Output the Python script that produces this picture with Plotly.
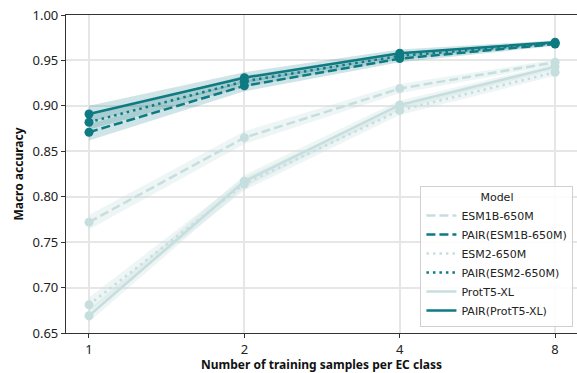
import math
import plotly.graph_objects as go

# Training samples per EC class
samples = [1, 2, 4, 8]

# Macro accuracy per model (mean and band edges)
names = ["ESM1B-650M", "PAIR(ESM1B-650M)", "ESM2-650M",
         "PAIR(ESM2-650M)", "ProtT5-XL", "PAIR(ProtT5-XL)"]

esm1b_mean = [0.772, 0.865, 0.919, 0.948]
esm1b_lo = [0.764, 0.858, 0.914, 0.945]
esm1b_hi = [0.780, 0.872, 0.924, 0.951]

pair_esm1b_mean = [0.871, 0.922, 0.952, 0.968]
pair_esm1b_lo = [0.862, 0.916, 0.948, 0.966]
pair_esm1b_hi = [0.880, 0.928, 0.956, 0.970]

esm2_mean = [0.681, 0.814, 0.895, 0.937]
esm2_lo = [0.673, 0.807, 0.890, 0.933]
esm2_hi = [0.689, 0.821, 0.900, 0.941]

pair_esm2_mean = [0.882, 0.927, 0.955, 0.969]
pair_esm2_lo = [0.874, 0.921, 0.951, 0.967]
pair_esm2_hi = [0.890, 0.933, 0.959, 0.971]

prott5_mean = [0.669, 0.817, 0.901, 0.943]
prott5_lo = [0.662, 0.810, 0.896, 0.940]
prott5_hi = [0.676, 0.824, 0.906, 0.946]

pair_prott5_mean = [0.891, 0.931, 0.958, 0.970]
pair_prott5_lo = [0.882, 0.925, 0.954, 0.968]
pair_prott5_hi = [0.900, 0.937, 0.962, 0.972]

DARK = "#0e7a82"
LIGHT = "#c6dede"
DARK_BAND = "rgba(14,122,130,0.20)"
LIGHT_BAND = "rgba(198,222,222,0.30)"

DASH = "9px,4px"
DOT = "2.5px,4px"

series = [
    (names[0], esm1b_mean, esm1b_lo, esm1b_hi, LIGHT, LIGHT_BAND, DASH),
    (names[1], pair_esm1b_mean, pair_esm1b_lo, pair_esm1b_hi, DARK, DARK_BAND, DASH),
    (names[2], esm2_mean, esm2_lo, esm2_hi, LIGHT, LIGHT_BAND, DOT),
    (names[3], pair_esm2_mean, pair_esm2_lo, pair_esm2_hi, DARK, DARK_BAND, DOT),
    (names[4], prott5_mean, prott5_lo, prott5_hi, LIGHT, LIGHT_BAND, "solid"),
    (names[5], pair_prott5_mean, pair_prott5_lo, pair_prott5_hi, DARK, DARK_BAND, "solid"),
]

fig = go.Figure()

# Shaded bands: light models first, then PAIR models on top
order = [0, 2, 4, 1, 3, 5]
for i in order:
    name, mean, lo, hi, col, band, dash = series[i]
    fig.add_trace(go.Scatter(
        x=samples + samples[::-1], y=hi + lo[::-1],
        fill="toself", fillcolor=band, line=dict(width=0),
        mode="lines", showlegend=False, hoverinfo="skip"))

# Lines (legend entries) and markers
for i in order:
    name, mean, lo, hi, col, band, dash = series[i]
    fig.add_trace(go.Scatter(
        x=samples, y=mean, mode="markers",
        marker=dict(size=9, color=col), showlegend=False,
        hoverinfo="skip"))
    fig.add_trace(go.Scatter(
        x=samples, y=mean, mode="lines", name=name,
        line=dict(color=col, width=2.5, dash=dash),
        legendrank=i + 1))

log2 = math.log10(2)
tick_font = dict(family="Noto Sans, DejaVu Sans, sans-serif", size=13, color="#222")

fig.update_layout(
    width=577, height=373,
    margin=dict(l=66, r=0, t=15, b=40),
    plot_bgcolor="white", paper_bgcolor="white",
    xaxis=dict(
        type="log", range=[-0.148 * log2, 3.141 * log2],
        tickvals=samples, ticktext=[str(s) for s in samples],
        showgrid=True, gridcolor="#e6e6e6", gridwidth=1.5,
        showline=True, linecolor="#333", linewidth=1.2, mirror=True,
        ticks="outside", ticklen=4, tickcolor="#333",
        tickfont=tick_font, zeroline=False,
        title=dict(text="<b>Number of training samples per EC class</b>",
                   font=dict(family="Noto Sans, DejaVu Sans, sans-serif", size=12, color="#111"),
                   standoff=4),
    ),
    yaxis=dict(
        range=[0.65, 1.0], tickvals=[0.65, 0.70, 0.75, 0.80, 0.85, 0.90, 0.95, 1.00],
        tickformat=".2f",
        showgrid=True, gridcolor="#e6e6e6", gridwidth=1.5,
        showline=True, linecolor="#333", linewidth=1.2, mirror=True,
        ticks="outside", ticklen=4, tickcolor="#333",
        tickfont=tick_font, zeroline=False,
        title=dict(text="<b>Macro accuracy</b>",
                   font=dict(family="Noto Sans, DejaVu Sans, sans-serif", size=12, color="#111"),
                   standoff=6),
    ),
    legend=dict(
        title=dict(text="Model", side="top center",
                   font=dict(family="DejaVu Sans, sans-serif", size=11, color="#222")),
        font=dict(family="DejaVu Sans, sans-serif", size=11, color="#222"),
        x=0.993, xanchor="right", y=0.02, yanchor="bottom",
        bgcolor="rgba(255,255,255,0.85)", bordercolor="#d0d0d0", borderwidth=1,
        tracegroupgap=0, itemwidth=30,
    ),
)

fig.write_html("out.html")
